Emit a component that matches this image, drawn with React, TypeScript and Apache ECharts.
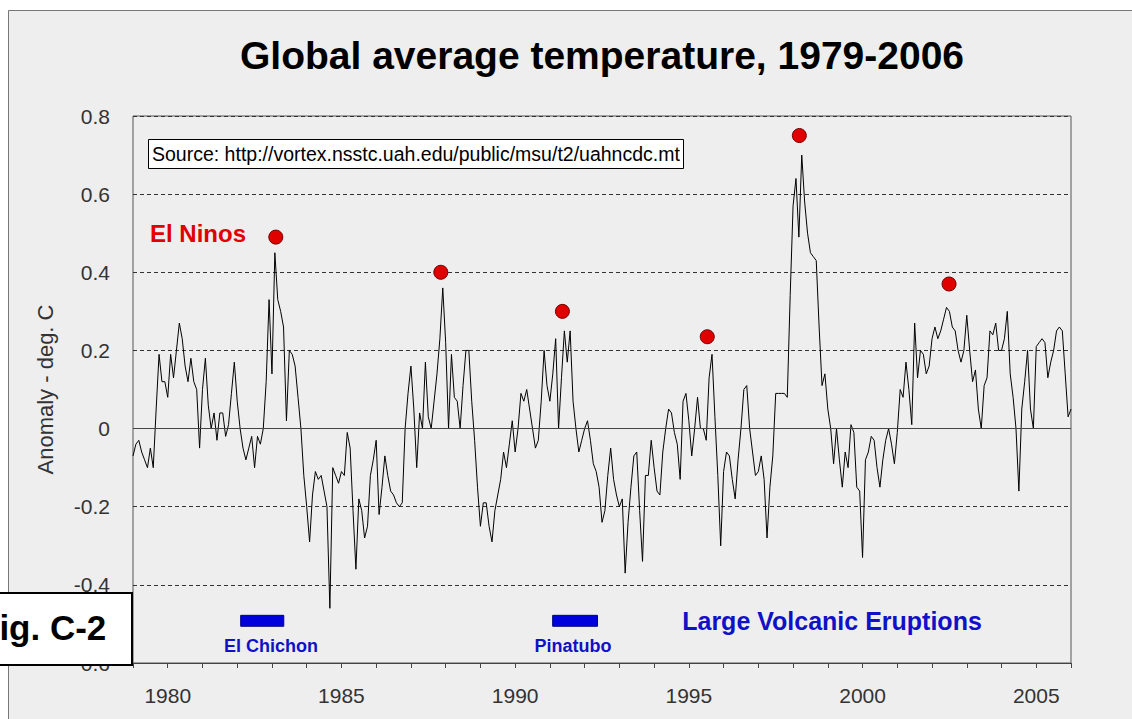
import React, { useEffect, useRef } from "react";
import * as echarts from "echarts";

const FONT = '"Liberation Sans", Arial, Helvetica, sans-serif';

const startYear = 1979;
// Monthly anomalies (deg C), Jan 1979 .. Jan 2006
const anomalies: number[] = [
  // 1979
  -0.07, -0.04, -0.03, -0.06, -0.08, -0.10, -0.05, -0.10, 0.05, 0.19, 0.12, 0.12,
  // 1980
  0.08, 0.19, 0.13, 0.20, 0.27, 0.23, 0.16, 0.12, 0.18, 0.12, 0.10, -0.05,
  // 1981
  0.10, 0.18, 0.06, 0.00, 0.04, -0.03, 0.04, 0.04, -0.02, 0.01, 0.09, 0.17,
  // 1982
  0.07, 0.00, -0.05, -0.08, -0.05, -0.02, -0.10, -0.02, -0.04, 0.00, 0.12, 0.33,
  // 1983
  0.14, 0.45, 0.33, 0.30, 0.26, 0.02, 0.20, 0.19, 0.16, 0.08, 0.00, -0.12,
  // 1984
  -0.20, -0.29, -0.17, -0.11, -0.13, -0.12, -0.16, -0.20, -0.46, -0.10, -0.12, -0.14,
  // 1985
  -0.11, -0.12, -0.01, -0.05, -0.21, -0.36, -0.18, -0.21, -0.28, -0.25, -0.12, -0.08,
  // 1986
  -0.03, -0.22, -0.15, -0.07, -0.12, -0.16, -0.17, -0.19, -0.20, -0.19, 0.00, 0.09,
  // 1987
  0.16, 0.05, -0.10, 0.04, 0.00, 0.17, 0.03, 0.00, 0.07, 0.14, 0.23, 0.36,
  // 1988
  0.22, 0.00, 0.19, 0.08, 0.07, 0.00, 0.11, 0.20, 0.20, 0.07, -0.03, -0.15,
  // 1989
  -0.25, -0.19, -0.19, -0.25, -0.29, -0.21, -0.17, -0.13, -0.06, -0.10, -0.04, 0.02,
  // 1990
  -0.06, 0.00, 0.09, 0.07, 0.10, 0.05, 0.00, -0.05, -0.03, 0.07, 0.20, 0.11,
  // 1991
  0.07, 0.14, 0.23, 0.00, 0.13, 0.25, 0.17, 0.25, 0.07, 0.00, -0.06, -0.03,
  // 1992
  0.00, 0.02, -0.03, -0.09, -0.11, -0.15, -0.24, -0.21, -0.12, -0.05, -0.13, -0.17,
  // 1993
  -0.20, -0.18, -0.37, -0.24, -0.15, -0.07, -0.06, -0.21, -0.34, -0.12, -0.12, -0.03,
  // 1994
  -0.10, -0.16, -0.17, -0.06, 0.00, 0.05, 0.04, -0.01, -0.04, -0.13, 0.07, 0.09,
  // 1995
  0.02, -0.07, 0.00, 0.08, 0.00, 0.00, -0.03, 0.13, 0.19, 0.03, -0.12, -0.30,
  // 1996
  -0.11, -0.06, -0.07, -0.13, -0.18, -0.08, 0.00, 0.10, 0.11, 0.00, -0.06, -0.12,
  // 1997
  -0.11, -0.07, -0.13, -0.28, -0.15, -0.07, 0.09, 0.09, 0.09, 0.09, 0.08, 0.34,
  // 1998
  0.57, 0.64, 0.49, 0.70, 0.58, 0.50, 0.45, 0.44, 0.43, 0.26, 0.11, 0.14,
  // 1999
  0.05, 0.00, -0.09, 0.00, -0.08, -0.15, -0.06, -0.10, 0.01, -0.01, -0.15, -0.16,
  // 2000
  -0.33, -0.08, -0.06, -0.02, -0.03, -0.10, -0.15, -0.08, -0.03, 0.00, -0.04, -0.09,
  // 2001
  -0.01, 0.10, 0.08, 0.17, 0.10, 0.01, 0.27, 0.13, 0.20, 0.19, 0.14, 0.16,
  // 2002
  0.23, 0.26, 0.23, 0.25, 0.28, 0.31, 0.30, 0.26, 0.25, 0.20, 0.17, 0.20,
  // 2003
  0.29, 0.20, 0.12, 0.15, 0.05, 0.00, 0.11, 0.13, 0.25, 0.24, 0.27, 0.20,
  // 2004
  0.20, 0.23, 0.30, 0.14, 0.08, 0.00, -0.16, 0.05, 0.12, 0.20, 0.05, 0.00,
  // 2005
  0.21, 0.22, 0.23, 0.22, 0.13, 0.17, 0.20, 0.25, 0.26, 0.25, 0.14, 0.03,
  // 2006
  0.05,
];

const ninoYears = [1983.11, 1987.86, 1991.36, 1995.53, 1998.18, 2002.49];
const ninoValues = [0.49, 0.40, 0.30, 0.235, 0.75, 0.37];

const volcanoNames = ["El Chichon", "Pinatubo"];
const volcanoStart = [1982.1, 1991.08];
const volcanoEnd = [1983.34, 1992.37];

const xMin = 1979;
const xMax = 2006;
const yMin = -0.6;
const yMax = 0.8;

const title = "Global average temperature, 1979-2006";
const sourceText = "Source: http://vortex.nsstc.uah.edu/public/msu/t2/uahncdc.mt";

export default function App() {
  const ref = useRef<HTMLDivElement>(null);
  useEffect(() => {
    if (!ref.current) return;
    const chart = echarts.init(ref.current, null, { renderer: "svg" });
    const lineData = anomalies.map((v, i) => [startYear + i / 12, v]);
    const barTop = -0.478;
    const barBottom = -0.506;

    const option: any = {
      animation: false,
      backgroundColor: "#eeeeee",
      grid: {
        left: 133,
        top: 116,
        width: 938,
        height: 547,
        show: true,
        borderColor: "#555555",
        borderWidth: 1,
        backgroundColor: "transparent",
      },
      xAxis: {
        type: "value",
        min: xMin,
        max: xMax,
        interval: 1,
        axisLine: { show: true, onZero: false, lineStyle: { color: "#444", width: 1 } },
        axisTick: { show: true, inside: false, length: 5, lineStyle: { color: "#444" } },
        splitLine: { show: false },
        axisLabel: {
          fontSize: 21,
          fontFamily: FONT,
          color: "#333",
          margin: 22,
          formatter: (v: number) => (Math.round(v) % 5 === 0 ? String(Math.round(v)) : ""),
        },
      },
      yAxis: {
        type: "value",
        min: yMin,
        max: yMax,
        interval: 0.2,
        name: "Anomaly - deg. C",
        nameLocation: "middle",
        nameRotate: 90,
        nameGap: 77,
        nameTextStyle: { fontSize: 22, fontFamily: FONT, color: "#333" },
        axisLine: { show: false },
        axisTick: { show: false },
        splitLine: { show: true, lineStyle: { color: "#333", width: 1, type: [4, 3] } },
        axisLabel: {
          fontSize: 21,
          fontFamily: FONT,
          color: "#333",
          margin: 23,
          formatter: (v: number) => (Math.abs(v) < 1e-9 ? "0" : v.toFixed(1)),
        },
      },
      series: [
        {
          type: "line",
          data: lineData,
          showSymbol: false,
          symbol: "none",
          lineStyle: { color: "#000", width: 1 },
          z: 3,
          markLine: {
            silent: true,
            symbol: "none",
            label: { show: false },
            lineStyle: { color: "#444", width: 1, type: "solid" },
            data: [{ yAxis: 0 }],
          },
        },
        {
          type: "scatter",
          data: ninoYears.map((x, i) => [x, ninoValues[i]]),
          symbolSize: 14,
          itemStyle: { color: "#e00000", borderColor: "#700000", borderWidth: 1, opacity: 1 },
          z: 4,
        },
        {
          type: "custom",
          data: volcanoStart.map((s, i) => [s, volcanoEnd[i]]),
          encode: { x: [0, 1] },
          renderItem: (params: any, api: any) => {
            const p1 = api.coord([api.value(0), barTop]);
            const p2 = api.coord([api.value(1), barBottom]);
            return {
              type: "rect",
              shape: { x: p1[0], y: p1[1], width: p2[0] - p1[0], height: p2[1] - p1[1] },
              style: { fill: "#0000dd", stroke: "#000080", lineWidth: 1 },
            };
          },
          z: 4,
        },
      ],
      graphic: [
        // white strips outside the outer frame
        { type: "rect", z: 50, shape: { x: 0, y: 0, width: 8, height: 719 }, style: { fill: "#ffffff" } },
        { type: "rect", z: 50, shape: { x: 0, y: 0, width: 1132, height: 10 }, style: { fill: "#ffffff" } },
        { type: "line", z: 51, shape: { x1: 8.5, y1: 10.5, x2: 8.5, y2: 719 }, style: { stroke: "#777", lineWidth: 1 } },
        { type: "line", z: 51, shape: { x1: 8.5, y1: 10.5, x2: 1132, y2: 10.5 }, style: { stroke: "#777", lineWidth: 1 } },
        {
          type: "text",
          z: 60,
          x: 602,
          y: 55,
          style: {
            text: title,
            fontSize: 39,
            fontWeight: "bold",
            fontFamily: FONT,
            fill: "#000",
            align: "center",
            verticalAlign: "middle",
          },
        },
        {
          type: "rect",
          z: 60,
          shape: { x: 148.5, y: 139.5, width: 535, height: 29 },
          style: { fill: "#ffffff", stroke: "#000", lineWidth: 1 },
        },
        {
          type: "text",
          z: 61,
          x: 152,
          y: 154,
          style: {
            text: sourceText,
            fontSize: 19.5,
            fontFamily: FONT,
            fill: "#000",
            align: "left",
            verticalAlign: "middle",
          },
        },
        {
          type: "text",
          z: 60,
          x: 150,
          y: 233,
          style: {
            text: "El Ninos",
            fontSize: 24,
            fontWeight: "bold",
            fontFamily: FONT,
            fill: "#e00000",
            align: "left",
            verticalAlign: "middle",
          },
        },
        {
          type: "text",
          z: 60,
          x: 271,
          y: 646,
          style: {
            text: volcanoNames[0],
            fontSize: 18,
            fontWeight: "bold",
            fontFamily: FONT,
            fill: "#1010c8",
            align: "center",
            verticalAlign: "middle",
          },
        },
        {
          type: "text",
          z: 60,
          x: 573,
          y: 646,
          style: {
            text: volcanoNames[1],
            fontSize: 18,
            fontWeight: "bold",
            fontFamily: FONT,
            fill: "#1010c8",
            align: "center",
            verticalAlign: "middle",
          },
        },
        {
          type: "text",
          z: 60,
          x: 832,
          y: 621,
          style: {
            text: "Large Volcanic Eruptions",
            fontSize: 25,
            fontWeight: "bold",
            fontFamily: FONT,
            fill: "#1010c8",
            align: "center",
            verticalAlign: "middle",
          },
        },
        {
          type: "rect",
          z: 70,
          shape: { x: -2, y: 593, width: 134, height: 72 },
          style: { fill: "#ffffff", stroke: "#000", lineWidth: 2 },
        },
        {
          type: "text",
          z: 71,
          x: -22,
          y: 627,
          style: {
            text: "Fig. C-2",
            fontSize: 35,
            fontWeight: "bold",
            fontFamily: FONT,
            fill: "#000",
            align: "left",
            verticalAlign: "middle",
          },
        },
      ],
    };
    chart.setOption(option);
    return () => chart.dispose();
  }, []);

  return (
    <div
      ref={ref}
      style={{ position: "absolute", left: 0, top: 0, width: 1132, height: 719 }}
    />
  );
}
